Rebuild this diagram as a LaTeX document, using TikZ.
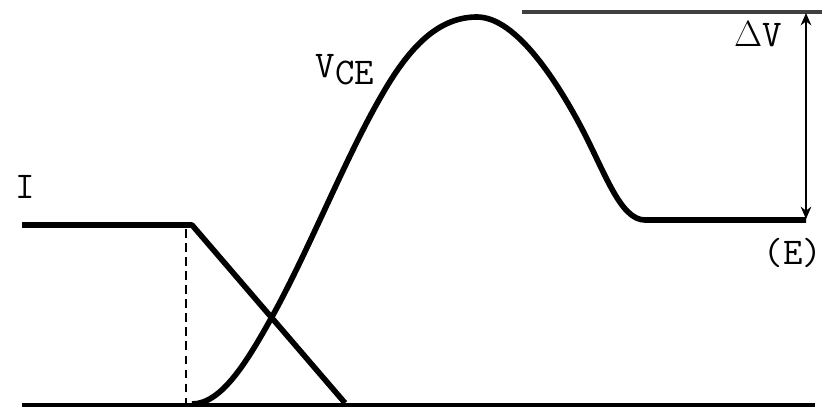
\documentclass[tikz,border=0pt]{standalone}
\usetikzlibrary{arrows.meta}
\begin{document}
\begin{tikzpicture}[x=0.02cm,y=-0.02cm,
  curve/.style={line width=3.2pt,line join=round},
  base/.style={line width=2.8pt},
  guide/.style={line width=1.2pt,dashed,dash pattern=on 5pt off 3pt},
  level/.style={line width=2pt,black!75},
  dim/.style={line width=1.4pt,{Stealth[length=7pt,width=6pt]}-{Stealth[length=7pt,width=6pt]}},
  lbl/.style={font=\ttfamily\fontsize{21.5}{23}\selectfont,inner sep=0pt}]
\useasboundingbox (0,0) rectangle (825,413);
% coordinates
\coordinate (b0) at (22,405);
\coordinate (b1) at (815,405);
\coordinate (t0) at (522,12);
\coordinate (t1) at (822,12);
\coordinate (i0) at (22,225);
\coordinate (i1) at (192,225);
\coordinate (i2) at (345,403);
\coordinate (d0) at (186,229);
\coordinate (d1) at (186,403);
\coordinate (p0) at (192,404);
\coordinate (p1) at (273,315);
\coordinate (p2) at (383,93);
\coordinate (p3) at (477,17);
\coordinate (p4) at (580,125);
\coordinate (p5) at (645,220);
\coordinate (e2) at (806,220);
\coordinate (a0) at (806,13);
\coordinate (a1) at (806,219);
% baseline and top level
\draw[base] (b0) -- (b1);
\draw[level] (t0) -- (t1);
% current I
\draw[curve] (i0) -- (i1) -- (i2);
\draw[guide] (d0) -- (d1);
% VCE
\draw[curve] (p0) .. controls (222,404) and (248,360) .. (p1)
  .. controls (310,248) and (346,156) .. (p2)
  .. controls (413,41) and (442,17) .. (p3)
  .. controls (512,17) and (550,69) .. (p4)
  .. controls (605,172) and (620,220) .. (p5) -- (e2);
% dimension arrow
\draw[dim] (a1) -- (a0);
% labels
\node[lbl] (lI) at (25,187) {I};
\node[lbl] (lV) at (345,70) {V\raisebox{-4pt}{CE}};
\node[lbl] (ldv) at (758,34) {$\Delta$V};
\node[lbl] (lE) at (793,253) {(E)};
\end{tikzpicture}
\end{document}
